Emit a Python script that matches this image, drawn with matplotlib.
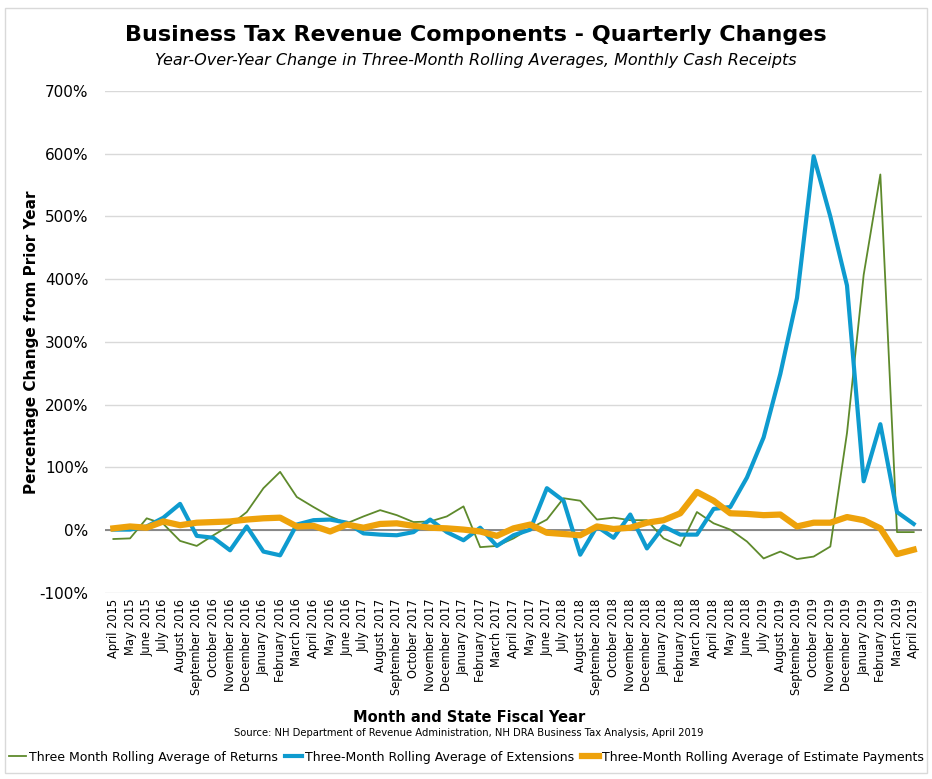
import matplotlib
matplotlib.use("Agg")
import matplotlib.pyplot as plt
from matplotlib.patches import Rectangle
from matplotlib.ticker import FuncFormatter, MultipleLocator

months = [
    "April 2015", "May 2015", "June 2015", "July 2016", "August 2016",
    "September 2016", "October 2016", "November 2016", "December 2016",
    "January 2016", "February 2016", "March 2016", "April 2016", "May 2016",
    "June 2016", "July 2017", "August 2017", "September 2017", "October 2017",
    "November 2017", "December 2017", "January 2017", "February 2017",
    "March 2017", "April 2017", "May 2017", "June 2017", "July 2018",
    "August 2018", "September 2018", "October 2018", "November 2018",
    "December 2018", "January 2018", "February 2018", "March 2018",
    "April 2018", "May 2018", "June 2018", "July 2019", "August 2019",
    "September 2019", "October 2019", "November 2019", "December 2019",
    "January 2019", "February 2019", "March 2019", "April 2019",
]

# Year-over-year change, percent
returns = [
    -14, -13, 19, 10, -17, -25, -8, 8, 29, 67, 93, 53, 37, 22, 11, 22,
    32, 24, 13, 14, 22, 38, -27, -25, -13, 3, 17, 51, 47, 17, 20, 16,
    16, -13, -25, 29, 11, 1, -18, -45, -34, -46, -42, -26, 155, 407,
    567, -3, -3,
]
extensions = [
    1, 1, 6, 20, 42, -9, -12, -32, 6, -34, -40, 9, 16, 17, 12, -5,
    -7, -8, -3, 17, -3, -16, 4, -25, -8, 1, 67, 47, -39, 6, -12, 25,
    -29, 6, -7, -7, 34, 37, 84, 148, 249, 370, 596, 500, 390, 78,
    169, 29, 10,
]
estimates = [
    3, 6, 4, 14, 8, 12, 13, 14, 17, 19, 20, 6, 7, -2, 9, 4,
    10, 11, 7, 4, 3, 1, -2, -9, 3, 9, -4, -6, -8, 6, 2, 4,
    12, 16, 27, 61, 47, 27, 26, 24, 25, 6, 12, 12, 21, 16,
    3, -38, -31,
]

GREEN = "#5E8A2C"
BLUE = "#0E9BCF"
ORANGE = "#EEA20B"

fig = plt.figure(figsize=(9.32, 7.79), dpi=100)
fig.patches.append(Rectangle((0.005, 0.008), 0.99, 0.982, transform=fig.transFigure,
                             fill=False, edgecolor="#d9d9d9", linewidth=1.0))

ax = fig.add_axes([0.1127, 0.2388, 0.8766, 0.6444])
x = list(range(len(months)))

ax.plot(x, returns, color=GREEN, linewidth=1.3, label="Three Month Rolling Average of Returns", zorder=3)
ax.plot(x, extensions, color=BLUE, linewidth=3.0, label="Three-Month Rolling Average of Extensions", zorder=4)
ax.plot(x, estimates, color=ORANGE, linewidth=4.5, label="Three-Month Rolling Average of Estimate Payments", zorder=5)

ax.set_xlim(-0.5, len(months) - 0.5)
ax.set_ylim(-100, 700)
ax.yaxis.set_major_locator(MultipleLocator(100))
ax.yaxis.set_major_formatter(FuncFormatter(lambda v, p: f"{v:.0f}%"))
ax.grid(axis="y", color="#d9d9d9", linewidth=1.0, zorder=0)
ax.axhline(0, color="#808080", linewidth=1.3, zorder=2)
for s in ax.spines.values():
    s.set_visible(False)

ax.set_xticks(x)
ax.set_xticklabels(months, rotation=90, fontsize=8.3)
ax.tick_params(axis="x", length=0, pad=4)
ax.tick_params(axis="y", length=0, pad=12, labelsize=11)

ax.set_ylabel("Percentage Change from Prior Year", fontsize=11, fontweight="bold", labelpad=0)

fig.text(0.51, 0.955, "Business Tax Revenue Components - Quarterly Changes",
         ha="center", va="center", fontsize=16, fontweight="bold")
fig.text(0.51, 0.922, "Year-Over-Year Change in Three-Month Rolling Averages, Monthly Cash Receipts",
         ha="center", va="center", fontsize=11.5, style="italic")
fig.text(0.503, 0.079, "Month and State Fiscal Year", ha="center", va="center",
         fontsize=10.5, fontweight="bold")
fig.text(0.503, 0.059, "Source: NH Department of Revenue Administration, NH DRA Business Tax Analysis, April 2019",
         ha="center", va="center", fontsize=7.2)

fig.legend(loc="center", bbox_to_anchor=(0.5, 0.028), ncol=3, frameon=False,
           fontsize=9, handlelength=1.4, handletextpad=0.2, columnspacing=0.6)

fig.savefig("out.png", dpi=100)
